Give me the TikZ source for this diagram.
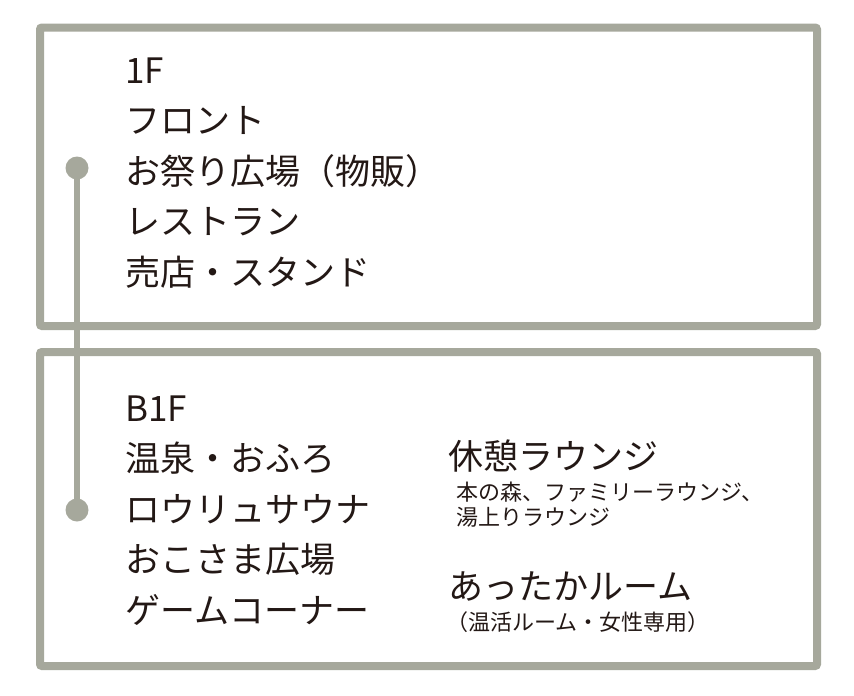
\documentclass[tikz,border=0pt]{standalone}
\usepackage{fontspec}
\setmainfont{Noto Sans CJK JP}
\definecolor{frame}{HTML}{A6A89C}
\definecolor{ink}{HTML}{231815}
\begin{document}
\begin{tikzpicture}[x=1pt,y=-1pt,
  boxframe/.style={draw=frame,line width=8pt,rounded corners=2pt},
  dot/.style={circle,fill=frame,minimum size=23pt,inner sep=0pt},
  link/.style={draw=frame,line width=6pt},
  big/.style={anchor=base west,inner sep=0pt,text=ink,font=\fontsize{35}{35}\selectfont},
  small/.style={anchor=base west,inner sep=0pt,text=ink,font=\fontsize{22}{22}\selectfont}]
\useasboundingbox (0,0) rectangle (854,696);
\fill[white] (0,0) rectangle (854,696);
\draw[boxframe] (40,27.5) rectangle (817,326);
\draw[boxframe] (40,352) rectangle (817,666);
\node[dot] (d1) at (77,168) {};
\node[dot] (d2) at (77,510) {};
\draw[link] (d1.center) -- (d2.center);
% 1F
\node[big] (f1) at (125,83) {1F};
\node[big] (f1a) at (125,133.5) {フロント};
\node[big] (f1b) at (125,184) {お祭り広場（物販）};
\node[big] (f1c) at (125,234.5) {レストラン};
\node[big] (f1d) at (125,285) {売店・スタンド};
% B1F
\node[big] (b1) at (125,421) {B1F};
\node[big] (b1a) at (125,471.5) {温泉・おふろ};
\node[big] (b1b) at (125,522) {ロウリュサウナ};
\node[big] (b1c) at (125,572.5) {おこさま広場};
\node[big] (b1d) at (125,623) {ゲームコーナー};
% right column
\node[big] (r1) at (448,469) {休憩ラウンジ};
\node[small] (r1a) at (456,500) {本の森、ファミリーラウンジ、};
\node[small] (r1b) at (456,525) {湯上りラウンジ};
\node[big] (r2) at (448,599) {あったかルーム};
\node[small] (r2a) at (446,630) {（温活ルーム・女性専用）};
\end{tikzpicture}
\end{document}
